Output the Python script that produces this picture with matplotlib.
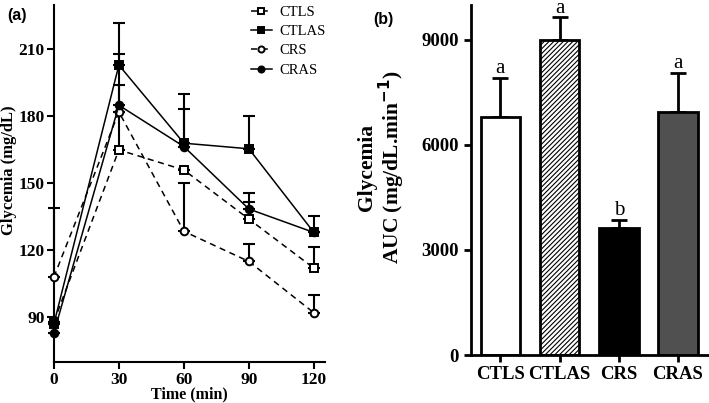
import numpy as np
import matplotlib.pyplot as plt

plt.rcParams['font.family'] = ['Liberation Serif', 'DejaVu Serif']
plt.rcParams['hatch.linewidth'] = 0.8

# time course data (panel a)
times = [0, 30, 60, 90, 120]
ctls = [88, 165, 156, 134, 112]
ctls_err = [0, 29, 0, 7.5, 9.5]
ctlas = [87, 203, 168, 165.5, 128]
ctlas_err = [0, 19, 22, 14.5, 7.5]
crs = [108, 182, 128.5, 115, 92]
crs_err = [31, 0, 21.5, 8, 8]
cras = [83, 185, 166.5, 138.5, 128]
cras_err = [0, 23, 17, 7, 0]

# AUC data (panel b)
groups = ['CTLS', 'CTLAS', 'CRS', 'CRAS']
auc = [6800, 9000, 3620, 6950]
auc_err = [1100, 640, 240, 1100]
letters = ['a', 'a', 'b', 'a']

fig = plt.figure(figsize=(7.09, 4.03), dpi=100)

# ---- panel (a)
ax1 = fig.add_axes([0.076, 0.102, 0.382, 0.886])
series = [
    ('CTLS', ctls, ctls_err, 's', 'white', (0, (4, 3))),
    ('CTLAS', ctlas, ctlas_err, 's', 'black', '-'),
    ('CRS', crs, crs_err, 'o', 'white', (0, (4, 3))),
    ('CRAS', cras, cras_err, 'o', 'black', '-'),
]
for label, vals, err, mk, mfc, ls in series:
    ax1.errorbar(times, vals, yerr=[np.zeros(len(err)), err], fmt='none',
                 ecolor='black', elinewidth=1.5, capsize=4, capthick=1.5,
                 clip_on=False, zorder=2)
    ax1.plot(times, vals, color='black', lw=1.1, ls=ls, marker=mk,
             markersize=5.5, markerfacecolor=mfc, markeredgecolor='black',
             markeredgewidth=1.4, label=label, clip_on=False, zorder=3)

ax1.set_xlim(0, 125)
ax1.set_ylim(70, 230)
ax1.set_xticks([0, 30, 60, 90, 120])
ax1.set_yticks([90, 120, 150, 180, 210])
for s in ['top', 'right']:
    ax1.spines[s].set_visible(False)
for s in ['left', 'bottom']:
    ax1.spines[s].set_linewidth(1.5)
ax1.tick_params(width=1.5, length=5, labelsize=12.5)
ax1.tick_params(axis='y', pad=1.5)
ax1.tick_params(axis='x', pad=2)
for t in ax1.get_xticklabels() + ax1.get_yticklabels():
    t.set_fontweight('bold')
ax1.set_xlabel('Time (min)', fontsize=11.5, fontweight='bold', labelpad=-1)
ax1.set_ylabel('Glycemia (mg/dL)', fontsize=12, fontweight='bold')
ax1.yaxis.set_label_coords(-0.137, 0.538)
ax1.legend(loc='upper left', bbox_to_anchor=(0.68, 1.035), frameon=False,
           fontsize=10.5, handlelength=1.4, handletextpad=0.5,
           labelspacing=0.42, markerscale=0.8)
fig.text(0.01, 0.95, '(a)', fontsize=11.5, fontweight='bold',
         family='Liberation Sans')

# ---- panel (b)
ax2 = fig.add_axes([0.664, 0.119, 0.334, 0.869])
x = np.arange(len(groups))
colors = ['white', 'white', 'black', '#505050']
hatches = [None, '///////', None, None]
ax2.errorbar(x, auc, yerr=[np.zeros(len(auc_err)), auc_err], fmt='none',
             ecolor='black', elinewidth=2, capsize=6, capthick=2, zorder=1)
for i in range(len(groups)):
    ax2.bar(x[i], auc[i], width=0.67, color=colors[i], edgecolor='black',
            linewidth=2, hatch=hatches[i], zorder=2)
    ax2.text(x[i], auc[i] + auc_err[i] + 140, letters[i], ha='center',
             va='baseline', fontsize=15)

ax2.set_xlim(-0.5, 3.5)
ax2.set_ylim(0, 10000)
ax2.set_xticks(x)
ax2.set_xticklabels(groups, fontsize=15, fontweight='bold')
ax2.set_yticks([0, 3000, 6000, 9000])
for s in ['top', 'right']:
    ax2.spines[s].set_visible(False)
for s in ['left', 'bottom']:
    ax2.spines[s].set_linewidth(2)
ax2.tick_params(width=2, length=5, labelsize=13.5)
for t in ax2.get_yticklabels():
    t.set_fontweight('bold')
ax2.tick_params(axis='x', pad=3)
ax2.set_ylabel('Glycemia\nAUC (mg/dL.min$^{\\mathbf{-1}}$)', fontsize=15.5,
               fontweight='bold', linespacing=1.0)
ax2.yaxis.set_label_coords(-0.27, 0.537)
fig.text(0.526, 0.94, '(b)', fontsize=11.5, fontweight='bold',
         family='Liberation Sans')

fig.savefig('out.png', dpi=100)
